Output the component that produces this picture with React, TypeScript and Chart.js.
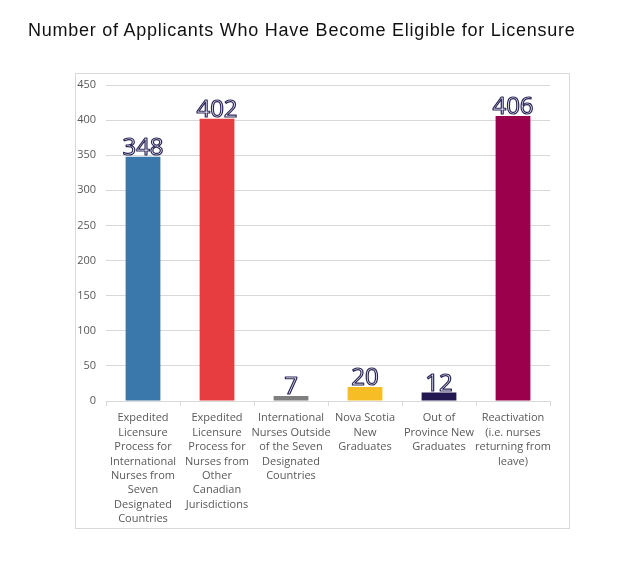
import React, { useEffect, useRef } from "react";
import { Chart, registerables } from "chart.js";

Chart.register(...registerables);

const TITLE = "Number of Applicants Who Have Become Eligible for Licensure";
const categories: string[][] = [
  ["Expedited", "Licensure", "Process for", "International", "Nurses from", "Seven", "Designated", "Countries"],
  ["Expedited", "Licensure", "Process for", "Nurses from", "Other", "Canadian", "Jurisdictions"],
  ["International", "Nurses Outside", "of the Seven", "Designated", "Countries"],
  ["Nova Scotia", "New", "Graduates"],
  ["Out of", "Province New", "Graduates"],
  ["Reactivation", "(i.e. nurses", "returning from", "leave)"],
];
const values = [348, 402, 7, 20, 12, 406];
const barColors = ["#3a77ab", "#e83d40", "#7f7f7f", "#f6be24", "#231851", "#9a004b"];
const yTicks = [0, 50, 100, 150, 200, 250, 300, 350, 400, 450];

const frameAndLabels = {
  id: "frameAndLabels",
  beforeDraw(chart: any) {
    const ctx = chart.ctx;
    ctx.save();
    ctx.strokeStyle = "#d9d9d9";
    ctx.lineWidth = 1;
    ctx.strokeRect(75.5, 73.5, 494, 455);
    ctx.restore();
  },
  afterDatasetsDraw(chart: any) {
    const ctx = chart.ctx;
    const meta = chart.getDatasetMeta(0);
    ctx.save();
    ctx.font = "24px 'Open Sans'";
    ctx.textAlign = "center";
    ctx.textBaseline = "alphabetic";
    ctx.lineJoin = "round";
    meta.data.forEach((bar: any, i: number) => {
      const txt = String(values[i]);
      const y = bar.y - 2;
      ctx.fillStyle = "#ffffff";
      ctx.fillText(txt, bar.x, y);
      ctx.strokeStyle = "#2a2657";
      ctx.lineWidth = 1.2;
      ctx.strokeText(txt, bar.x, y);
    });
    ctx.restore();
  },
};

export default function App() {
  const ref = useRef<HTMLCanvasElement>(null);
  useEffect(() => {
    const chart = new Chart(ref.current!, {
      type: "bar",
      data: {
        labels: categories,
        datasets: [
          {
            data: values,
            backgroundColor: barColors,
            borderWidth: 0,
            barPercentage: 0.47,
            categoryPercentage: 1,
          },
        ],
      },
      options: {
        animation: false,
        responsive: false,
        maintainAspectRatio: false,
        layout: { padding: { left: 76, right: 88, top: 85, bottom: 35 } },
        plugins: { legend: { display: false }, tooltip: { enabled: false } },
        scales: {
          x: {
            offset: true,
            grid: { display: true, drawOnChartArea: false, drawTicks: true, tickLength: 5, color: "#d9d9d9", offset: true },
            border: { display: true, color: "#d9d9d9" },
            ticks: {
              color: "#595959",
              font: { family: "'Open Sans'", size: 11, lineHeight: 1.31 },
              padding: 5,
              maxRotation: 0,
              autoSkip: false,
            },
            afterFit(scale: any) {
              scale.height = 563 - 35 - 401;
            },
          },
          y: {
            min: 0,
            max: 450,
            afterBuildTicks(scale: any) {
              scale.ticks = yTicks.map((v) => ({ value: v }));
            },
            grid: { color: "#d9d9d9", drawTicks: false },
            border: { display: false },
            ticks: {
              color: "#595959",
              font: { family: "'Open Sans'", size: 11 },
              padding: 10,
            },
            afterFit(scale: any) {
              scale.width = 30;
            },
          },
        },
      },
      plugins: [frameAndLabels],
    });
    return () => chart.destroy();
  }, []);
  return (
    <div style={{ position: "absolute", left: 0, top: 0, width: 638, height: 563, background: "#fff" }}>
      <canvas ref={ref} width={638} height={563} style={{ position: "absolute", left: 0, top: 0 }} />
      <div
        style={{
          position: "absolute",
          left: 28,
          top: 18,
          fontFamily: "'Liberation Sans', Arial, sans-serif",
          fontSize: 18,
          letterSpacing: "0.75px",
          color: "#111",
          whiteSpace: "nowrap",
          lineHeight: "24px",
        }}
      >
        {TITLE}
      </div>
    </div>
  );
}
